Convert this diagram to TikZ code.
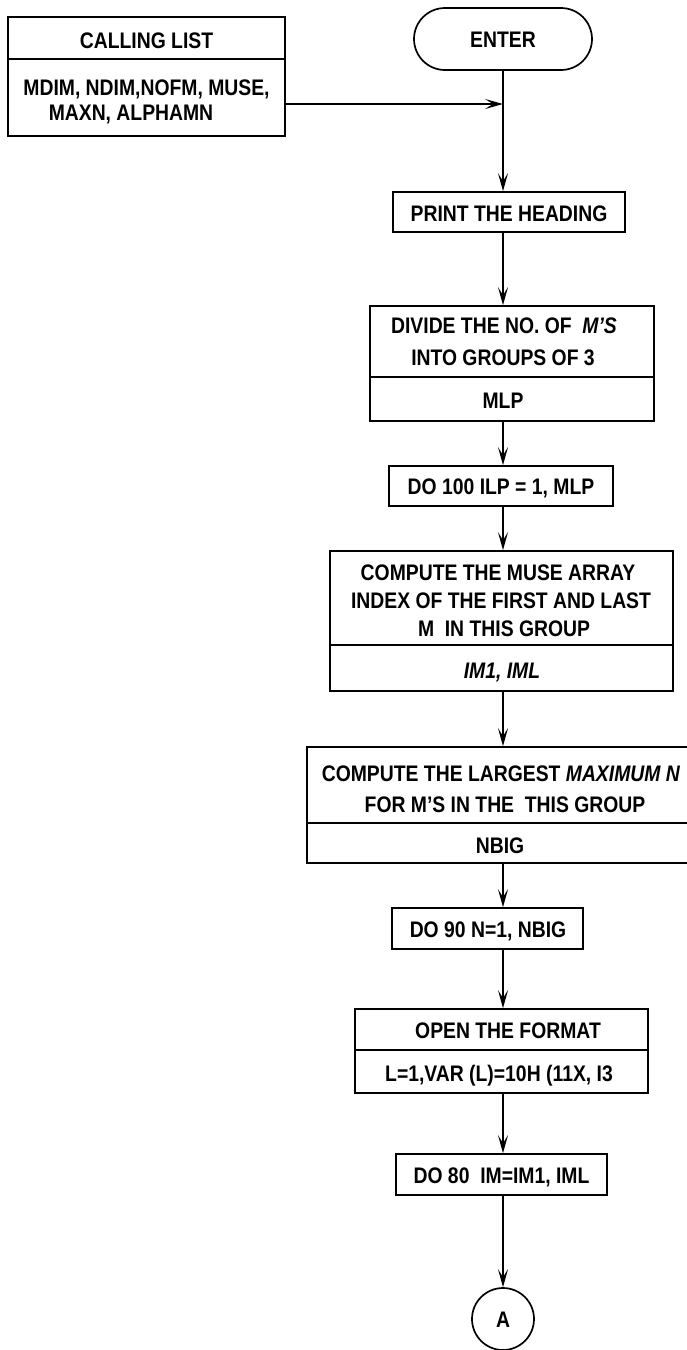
\documentclass[tikz,border=0pt]{standalone}
\usepackage{fontspec}
\setmainfont{Liberation Sans}[FakeStretch=0.86]
\usetikzlibrary{arrows.meta,calc}
\begin{document}
\begin{tikzpicture}[x=1pt,y=-1pt,
  box/.style n args={2}{draw, line width=1.7pt, minimum width=#1pt, minimum height=#2pt, inner sep=0pt},
  term/.style={draw, line width=1.7pt, rounded corners=31pt, minimum width=178pt, minimum height=62pt, inner sep=0pt,
    font=\bfseries\fontsize{22.5}{25}\selectfont, text height=16pt, text depth=0pt},
  conn/.style={draw, circle, line width=1.7pt, minimum size=62pt, inner sep=0pt,
    font=\bfseries\fontsize{22.5}{25}\selectfont, text height=16pt, text depth=0pt},
  txt/.style={inner sep=0pt, font=\bfseries\fontsize{22.5}{25}\selectfont, text height=16pt, text depth=0pt},
  ln/.style={line width=1.7pt},
  arr/.style={line width=1.7pt, -{Stealth[length=18pt,width=10pt,inset=8pt]}}]
\useasboundingbox (0,0) rectangle (687,1350);
\fill[white] (0,0) rectangle (687,1350);

% calling list
\node[box={277}{119}] (cl) at (146.5,76.5) {};
\node[txt] (clh) at (146.5,40) {CALLING LIST};
\draw[ln] ($(cl.north west)+(0,43)$) -- ($(cl.north east)+(0,43)$);
\node[txt] (cl1) at (146.5,87) {MDIM, NDIM,NOFM, MUSE,};
\node[txt] (cl2) at (131,112) {MAXN, ALPHAMN};

% enter
\node[term] (enter) at (503,39) {ENTER};
\coordinate (mx) at (503,0);
\coordinate (jn) at (503,104);

% print
\node[box={232}{40}] (print) at (509,212) {};
\node[txt] (printt) at (509,213) {PRINT THE HEADING};

% divide
\node[box={284}{115}] (divide) at (512,363.5) {};
\node[txt] (div1) at (504,325) {DIVIDE THE NO. OF \ \textit{M’S}};
\node[txt] (div2) at (503,357) {INTO GROUPS OF 3};
\draw[ln] ($(divide.north west)+(0,72)$) -- ($(divide.north east)+(0,72)$);
\node[txt] (div3) at (503,400) {MLP};

% do 100
\node[box={224}{40}] (do100) at (501,486) {};
\node[txt] (do100t) at (501,486) {DO 100 ILP = 1, MLP};

% compute 1
\node[box={343}{140}] (comp1) at (501.5,621) {};
\node[txt] (c1a) at (498,572) {COMPUTE THE MUSE ARRAY};
\node[txt] (c1b) at (501,600) {INDEX OF THE FIRST AND LAST};
\node[txt] (c1c) at (504,628) {M \ IN THIS GROUP};
\draw[ln] ($(comp1.north west)+(0,95)$) -- ($(comp1.north east)+(0,95)$);
\node[txt] (c1d) at (502,670) {\itshape IM1, IML};

% compute 2
\node[box={381}{116}] (comp2) at (497.5,805) {};
\node[txt] (c2a) at (501,773) {COMPUTE THE LARGEST \textit{MAXIMUM N}};
\node[txt] (c2b) at (505,804) {FOR M’S IN THE \ THIS GROUP};
\draw[ln] ($(comp2.north west)+(0,77)$) -- ($(comp2.north east)+(0,77)$);
\node[txt] (c2c) at (500,845) {NBIG};

% do 90
\node[box={191}{41}] (do90) at (487.5,928.5) {};
\node[txt] (do90t) at (488,929) {DO 90 N=1, NBIG};

% open format
\node[box={293}{84}] (open) at (501.5,1051) {};
\node[txt] (op1) at (508,1030) {OPEN THE FORMAT};
\draw[ln] ($(open.north west)+(0,42)$) -- ($(open.north east)+(0,42)$);
\node[txt] (op2) at (499,1073) {L=1,VAR (L)=10H (11X, I3};

% do 80
\node[box={211}{41}] (do80) at (501.5,1174.5) {};
\node[txt] (do80t) at (501.5,1175) {DO 80 \ IM=IM1, IML};

% connector A
\node[conn] (A) at (503,1319) {A};

% connectors
\draw[arr] (cl.east |- jn) -- (jn);
\draw[arr] (enter.south) -- (mx |- print.north);
\draw[arr] (mx |- print.south) -- (mx |- divide.north);
\draw[arr] (mx |- divide.south) -- (mx |- do100.north);
\draw[arr] (mx |- do100.south) -- (mx |- comp1.north);
\draw[arr] (mx |- comp1.south) -- (mx |- comp2.north);
\draw[arr] (mx |- comp2.south) -- (mx |- do90.north);
\draw[arr] (mx |- do90.south) -- (mx |- open.north);
\draw[arr] (mx |- open.south) -- (mx |- do80.north);
\draw[arr] (mx |- do80.south) -- (A.north);
\end{tikzpicture}
\end{document}
